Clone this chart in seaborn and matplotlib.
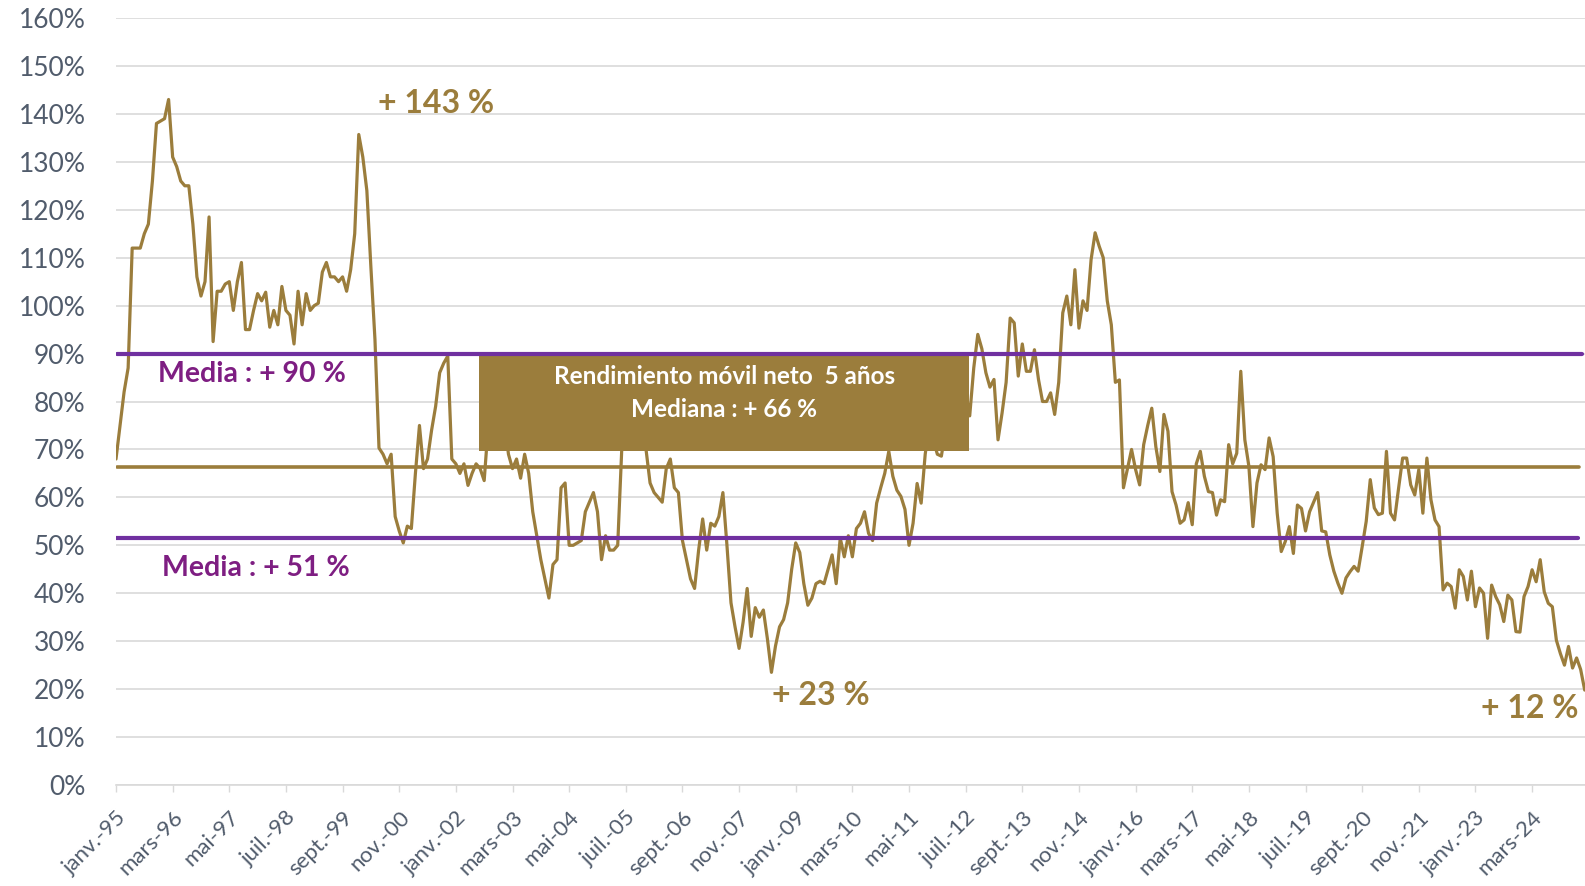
import numpy as np
import pandas as pd
import matplotlib.pyplot as plt
import matplotlib.patches as mpatches
import seaborn as sns

# Rendimiento móvil neto 5 años, mensual desde janv.-95 (en %)
rendimiento = [
    68, 75, 82, 87, 112, 112, 112, 115, 117, 126, 138, 138.5, 139, 143, 131, 129,
    126, 125, 125, 117, 106, 102, 105, 118.5, 92.5, 103, 103, 104.5, 105, 99, 105, 109,
    95, 95, 99, 102.5, 101, 102.8, 95.5, 99, 96, 104, 99, 98, 92, 103, 96, 102.5,
    99, 100, 100.5, 107, 109, 106, 106, 105, 106, 103, 107.5, 115, 135.7, 131, 124, 108,
    93, 70.3, 69, 67, 69, 56, 53, 50.5, 54, 53.5, 65, 75, 66, 68, 74, 79,
    86, 88, 89.5, 68, 67, 65, 67, 62.5, 65, 67, 66, 63.5, 75, 80, 78, 82,
    76, 69, 66, 68, 64, 69, 65, 57, 52, 47, 43, 39, 46, 47, 62, 63,
    50, 50, 50.5, 51, 57, 59, 61, 57, 47, 52, 49, 49, 50, 70, 78, 84,
    80, 86, 79, 70, 63, 61, 60, 59, 66, 68, 62, 61, 51, 47, 43, 41,
    49, 55.5, 49, 54.6, 54, 56, 61, 50, 38, 33, 28.5, 34, 41, 31, 37, 35,
    36.5, 30.5, 23.5, 29, 33, 34.5, 38, 45, 50.5, 48.5, 42, 37.5, 39, 42, 42.5, 42,
    45, 48, 42, 51.5, 47.6, 52, 47.6, 53.5, 54.6, 57, 52.5, 51, 58.8, 62, 65, 69.6,
    64.4, 61.5, 60.2, 57.5, 50, 54.6, 62.9, 58.8, 69, 75, 72, 69, 68.6, 74, 78, 82,
    80, 85, 82, 77, 87, 94, 91, 86, 83, 84.6, 72, 77.6, 84, 97.4, 96.4, 85.3,
    92, 86.3, 86.3, 90.8, 84.6, 80, 80, 81.8, 77.3, 84, 98.5, 102, 96, 107.5, 95.3, 101,
    99, 109.6, 115.2, 112.4, 110, 101, 96, 84, 84.5, 62, 66, 70, 65.8, 62.6, 71, 75,
    78.6, 70.6, 65.4, 77.3, 73.8, 61.2, 58.4, 54.6, 55.3, 58.9, 54.3, 67, 69.6, 64.4, 61.2, 61,
    56.3, 59.5, 59.1, 71, 67, 69.2, 86.3, 72, 66.5, 53.9, 63, 66.8, 65.8, 72.4, 68.5, 56.7,
    48.7, 50.8, 53.9, 48.3, 58.4, 57.7, 53, 57, 59, 61, 53, 52.8, 48, 44.6, 42.1, 40,
    43.2, 44.5, 45.6, 44.6, 49.7, 55, 63.7, 57.8, 56.4, 56.7, 69.6, 56.7, 55.3, 61.9, 68.2, 68.2,
    62.6, 60.5, 65.8, 56.7, 68.2, 59.5, 55.3, 53.9, 40.7, 42.1, 41.4, 36.9, 44.9, 43.5, 38.6, 44.6,
    37.2, 41.1, 40, 30.6, 41.7, 39.3, 37.6, 34.1, 39.6, 38.6, 32, 31.9, 39.3, 41.4, 44.9, 42.4,
    47, 40.3, 37.9, 37.2, 30.2, 27.4, 25, 28.9, 24.4, 26.5, 24.1, 19.8,
]

# etiquetas del eje X (una cada 14 meses)
etiquetas_x = [
    "janv.-95", "mars-96", "mai-97", "juil.-98", "sept.-99", "nov.-00", "janv.-02",
    "mars-03", "mai-04", "juil.-05", "sept.-06", "nov.-07", "janv.-09", "mars-10",
    "mai-11", "juil.-12", "sept.-13", "nov.-14", "janv.-16", "mars-17", "mai-18",
    "juil.-19", "sept.-20", "nov.-21", "janv.-23", "mars-24",
]
paso_etiquetas = 14

media_alta = 90
media_baja = 51.5
mediana = 66.3

OLIVA = "#9B7D3C"
MORADO = "#7030A0"
TEXTO_MORADO = "#7E1E82"
GRIS_TXT = "#515C6C"
GRIS_GRID = "#D9D9D9"

sns.set_theme(style="white")
plt.rcParams["font.family"] = ["Lato", "DejaVu Sans"]

df = pd.DataFrame({"mes": np.arange(len(rendimiento)), "rendimiento": rendimiento})

W, H = 1585, 886
fig = plt.figure(figsize=(W / 100, H / 100), dpi=100)
x0, y0, y1 = 116, 785, 18
ax = fig.add_axes([x0 / W, (H - y0) / H, 1 - x0 / W, (y0 - y1) / H])

ax.set_ylim(0, 160)
ax.set_xlim(0, (W - x0) / 4.046)

# cuadrícula horizontal
ax.set_yticks(np.arange(0, 161, 10))
ax.set_yticklabels([f"{v}%" for v in range(0, 161, 10)])
ax.yaxis.grid(True, color=GRIS_GRID, lw=1.2)
ax.set_axisbelow(True)
for s in ["top", "right", "left"]:
    ax.spines[s].set_visible(False)
ax.spines["bottom"].set_color(GRIS_GRID)
ax.spines["bottom"].set_linewidth(1.2)

ax.set_xticks(np.arange(len(etiquetas_x)) * paso_etiquetas)
ax.set_xticklabels(etiquetas_x, rotation=45, ha="right", rotation_mode="anchor")
ax.tick_params(axis="x", length=5, width=1, color=GRIS_GRID, direction="out",
               pad=11, labelsize=16, labelcolor=GRIS_TXT, bottom=True)
ax.tick_params(axis="y", length=0, pad=22, labelsize=19, labelcolor=GRIS_TXT)

sns.lineplot(data=df, x="mes", y="rendimiento", color=OLIVA, lw=2.3, ax=ax, zorder=3)
ax.set_xlabel("")
ax.set_ylabel("")

# medias y mediana
ax.axhline(mediana, xmin=0.001, xmax=0.996, color=OLIVA, lw=2.6, zorder=2)
ax.axhline(media_alta, xmin=0.001, xmax=0.998, color=MORADO, lw=3, zorder=5)
ax.axhline(media_baja, xmin=0.0, xmax=0.995, color=MORADO, lw=3, zorder=5)

# recuadro
caja = mpatches.Rectangle((89.7, 69.7), 121.2, 20.1, facecolor=OLIVA,
                          edgecolor="none", zorder=4)
ax.add_patch(caja)
ax.text(150.3, 85.2, "Rendimiento móvil neto  5 años", ha="center", va="center",
        color="white", fontsize=17.5, fontweight="bold", zorder=6)
ax.text(150.3, 78.3, "Mediana : + 66 %", ha="center", va="center",
        color="white", fontsize=17.5, fontweight="bold", zorder=6)

# anotaciones
ax.text(64.8, 142.2, "+ 143 %", ha="left", va="center", color=OLIVA,
        fontsize=23, fontweight="bold", zorder=6)
ax.text(10.4, 85.8, "Media : + 90 %", ha="left", va="center", color=TEXTO_MORADO,
        fontsize=20.5, fontweight="bold", zorder=6)
ax.text(11.4, 45.3, "Media : + 51 %", ha="left", va="center", color=TEXTO_MORADO,
        fontsize=20.5, fontweight="bold", zorder=6)
ax.text(162.1, 18.7, "+ 23 %", ha="left", va="center", color=OLIVA,
        fontsize=23, fontweight="bold", zorder=6)
ax.text(361.5, 16.0, "+ 12 %", ha="right", va="center", color=OLIVA,
        fontsize=23, fontweight="bold", zorder=6)

fig.savefig("out.png", dpi=100)
